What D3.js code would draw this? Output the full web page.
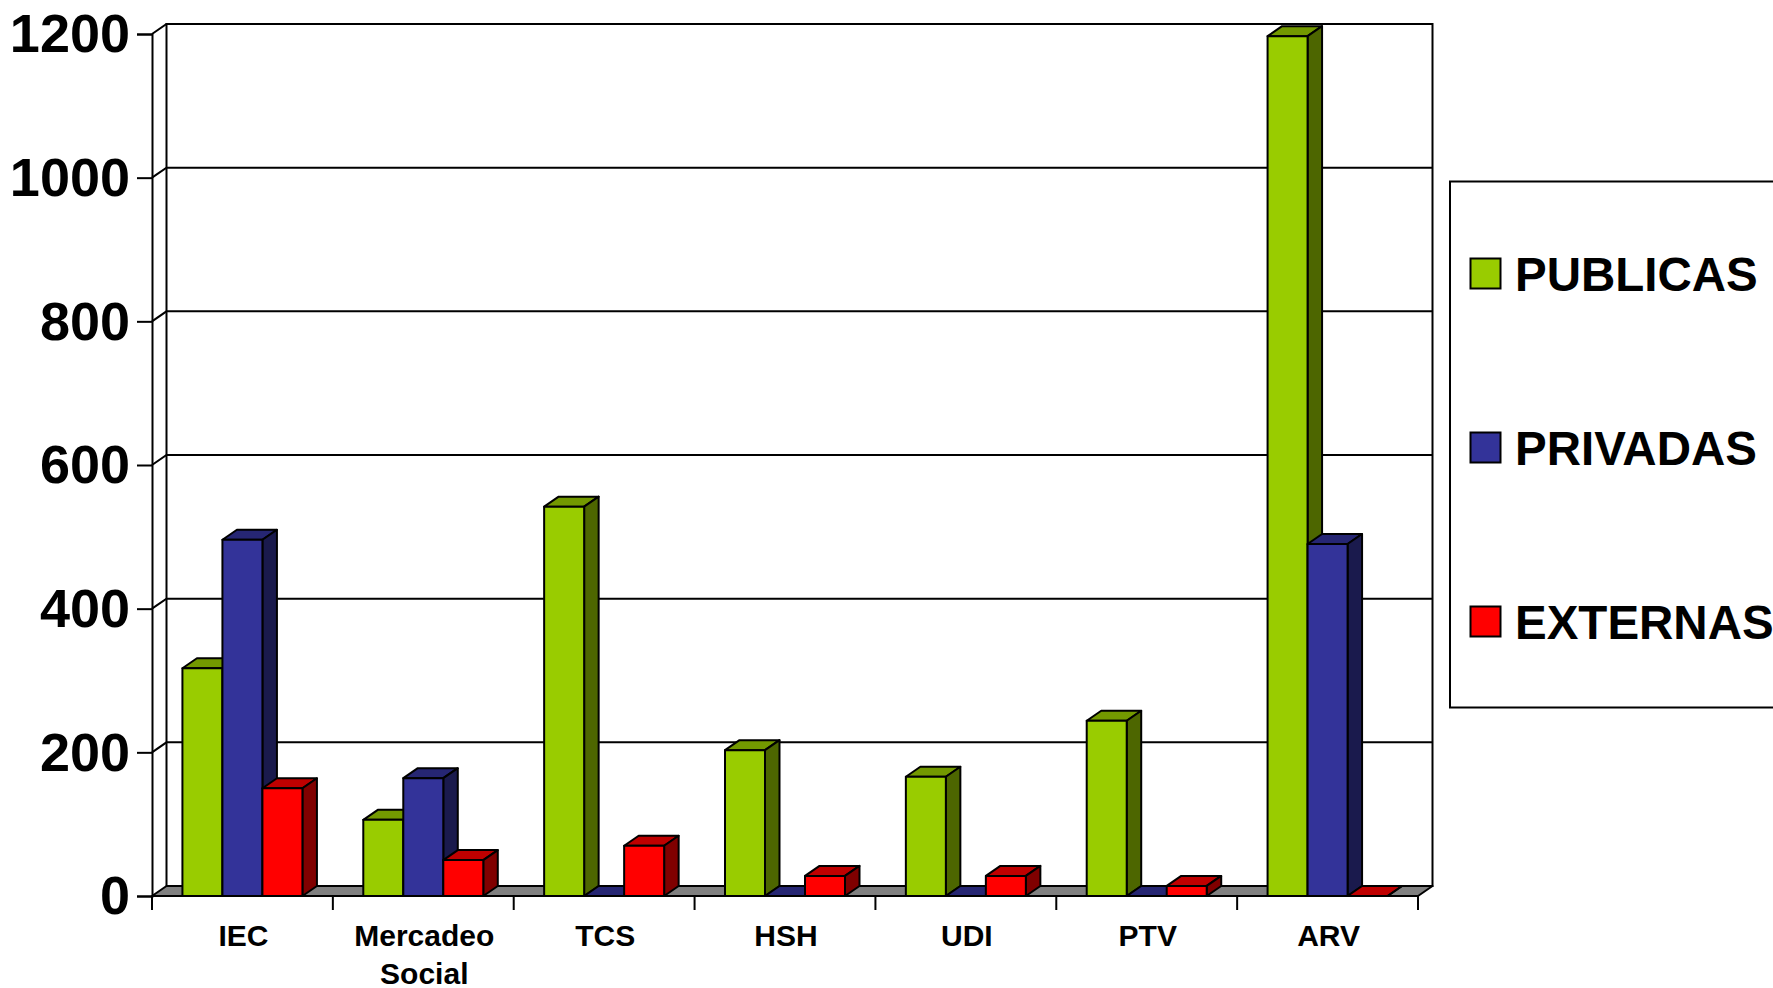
<!DOCTYPE html>
<html>
<head>
<meta charset="utf-8">
<script src="https://cdn.jsdelivr.net/npm/d3@7"></script>
<style>
  html, body { margin: 0; padding: 0; background: #fff; overflow: hidden; }
  text { font-family: "Liberation Sans", Arial, sans-serif; font-weight: bold; fill: #000; }
</style>
</head>
<body>
<script>
    // values
    var categories = ['IEC', 'Mercadeo Social', 'TCS', 'HSH', 'UDI', 'PTV', 'ARV'];
    var seriesNames = ['PUBLICAS', 'PRIVADAS', 'EXTERNAS'];
    var publicas = [317, 106, 542, 203, 166, 244, 1197];
    var privadas = [496, 164, 0, 0, 0, 0, 490];
    var externas = [150, 50, 70, 28, 28, 14, 0];
    var seriesValues = [publicas, privadas, externas];
    var yTicks = [0, 200, 400, 600, 800, 1000, 1200];

    var fronts = ['#99cc00', '#333399', '#ff0000'];
    var tops = ['#739900', '#262673', '#bf0000'];
    var sides = ['#4d6600', '#1a1a4d', '#800000'];

    var width = 1773;
    var height = 988;

    // front plane of the box, and how far the back wall is pushed away
    var plotLeft = 152, plotRight = 1418, plotBottom = 896, plotTop = 34;
    var depthX = 14.5, depthY = 10;
    var groupWidth = 120;
    var lineW = 2;

    var svg = d3.select('body').append('svg')
        .attr('width', width)
        .attr('height', height)
        .style('display', 'block');

    var xScale = d3.scaleBand().domain(categories).range([plotLeft, plotRight]);
    var barScale = d3.scaleBand().domain(seriesNames).range([0, groupWidth]);
    var yScale = d3.scaleLinear().domain([0, 1200]).range([plotBottom, plotTop]);

    var poly = (pts) => pts.map(p => p.join(',')).join(' ');

    // back wall
    svg.append('rect')
        .attr('x', plotLeft + depthX)
        .attr('y', plotTop - depthY)
        .attr('width', plotRight - plotLeft)
        .attr('height', plotBottom - plotTop)
        .attr('fill', '#fff')
        .attr('stroke', '#000')
        .attr('stroke-width', lineW);

    // gridlines on back wall + diagonal on the side wall
    svg.append('g').selectAll('path')
        .data(yTicks.filter(d => d > 0))
        .enter()
        .append('path')
        .attr('fill', 'none')
        .attr('stroke', '#000')
        .attr('stroke-width', lineW)
        .attr('d', d => 'M' + plotLeft + ',' + yScale(d) +
            'L' + (plotLeft + depthX) + ',' + (yScale(d) - depthY) +
            'H' + (plotRight + depthX));

    // floor
    svg.append('polygon')
        .attr('points', poly([[plotLeft, plotBottom], [plotLeft + depthX, plotBottom - depthY],
            [plotRight + depthX, plotBottom - depthY], [plotRight, plotBottom]]))
        .attr('fill', '#808080')
        .attr('stroke', '#000')
        .attr('stroke-width', lineW)
        .attr('stroke-linejoin', 'round');

    // y axis
    var yAxis = d3.axisLeft(yScale)
        .tickValues(yTicks)
        .tickSize(15)
        .tickPadding(7)
        .tickFormat(d3.format('d'));

    var yG = svg.append('g')
        .attr('transform', 'translate(' + plotLeft + ',0)')
        .call(yAxis);
    yG.select('.domain').attr('stroke', '#000').attr('stroke-width', lineW);
    yG.selectAll('line').attr('stroke', '#000').attr('stroke-width', lineW);
    yG.selectAll('text')
        .attr('dy', '0.33em')
        .style('font-size', '54px')
        .style('font-family', '"Liberation Sans", Arial, sans-serif')
        .style('font-weight', 'bold');

    // x axis: labels centred on the bands, ticks between the bands
    var xAxis = d3.axisBottom(xScale).tickSize(0).tickPadding(0);
    var xG = svg.append('g')
        .attr('transform', 'translate(0,' + plotBottom + ')')
        .call(xAxis);
    xG.select('.domain').remove();
    xG.selectAll('.tick text').each(function (d) {
        var label = d3.select(this).text('').attr('y', 0).attr('dy', null)
            .style('font-size', '30px')
            .style('font-family', '"Liberation Sans", Arial, sans-serif')
            .style('font-weight', 'bold');
        d.split(' ').forEach((word, i) => {
            label.append('tspan')
                .attr('x', 1)
                .attr('y', 50 + i * 38)
                .text(word);
        });
    });

    var boundaries = categories.map(c => xScale(c)).concat([plotRight]);
    svg.append('g').selectAll('line')
        .data(boundaries)
        .enter()
        .append('line')
        .attr('x1', d => d)
        .attr('x2', d => d)
        .attr('y1', plotBottom)
        .attr('y2', plotBottom + 14)
        .attr('stroke', '#000')
        .attr('stroke-width', lineW);

    // 3d bars, left to right so later faces cover earlier sides
    var bars = [];
    categories.forEach((c, i) => {
        seriesNames.forEach((s, j) => {
            bars.push({ category: c, series: j, name: s, value: seriesValues[j][i] });
        });
    });

    var barG = svg.append('g').selectAll('g')
        .data(bars)
        .enter()
        .append('g')
        .attr('stroke', '#000')
        .attr('stroke-width', lineW)
        .attr('stroke-linejoin', 'round');

    var x0 = d => xScale(d.category) + (xScale.bandwidth() - groupWidth) / 2 + barScale(d.name);
    var x1 = d => x0(d) + barScale.bandwidth();

    barG.append('polygon')
        .attr('fill', d => tops[d.series])
        .attr('points', d => poly([[x0(d), yScale(d.value)], [x0(d) + depthX, yScale(d.value) - depthY],
            [x1(d) + depthX, yScale(d.value) - depthY], [x1(d), yScale(d.value)]]));

    barG.append('polygon')
        .attr('fill', d => sides[d.series])
        .attr('points', d => poly([[x1(d), yScale(d.value)], [x1(d) + depthX, yScale(d.value) - depthY],
            [x1(d) + depthX, plotBottom - depthY], [x1(d), plotBottom]]));

    barG.append('rect')
        .attr('fill', d => fronts[d.series])
        .attr('x', d => x0(d))
        .attr('y', d => yScale(d.value))
        .attr('width', barScale.bandwidth())
        .attr('height', d => plotBottom - yScale(d.value));

    // legend, runs off the right edge like the original
    var legendY = d3.scalePoint().domain(seriesNames).range([273.5, 621.5]);

    svg.append('rect')
        .attr('x', 1450)
        .attr('y', 181.5)
        .attr('width', 400)
        .attr('height', 526)
        .attr('fill', '#fff')
        .attr('stroke', '#000')
        .attr('stroke-width', lineW);

    var legend = svg.append('g').selectAll('g')
        .data(seriesNames)
        .enter()
        .append('g')
        .attr('transform', d => 'translate(0,' + legendY(d) + ')');

    legend.append('rect')
        .attr('x', 1470.5)
        .attr('y', -15)
        .attr('width', 30)
        .attr('height', 30)
        .attr('fill', (d, i) => fronts[i])
        .attr('stroke', '#000')
        .attr('stroke-width', lineW);

    legend.append('text')
        .attr('x', 1515)
        .attr('y', 17.5)
        .style('font-size', '47.5px')
        .text(d => d);
</script>
</body>
</html>
